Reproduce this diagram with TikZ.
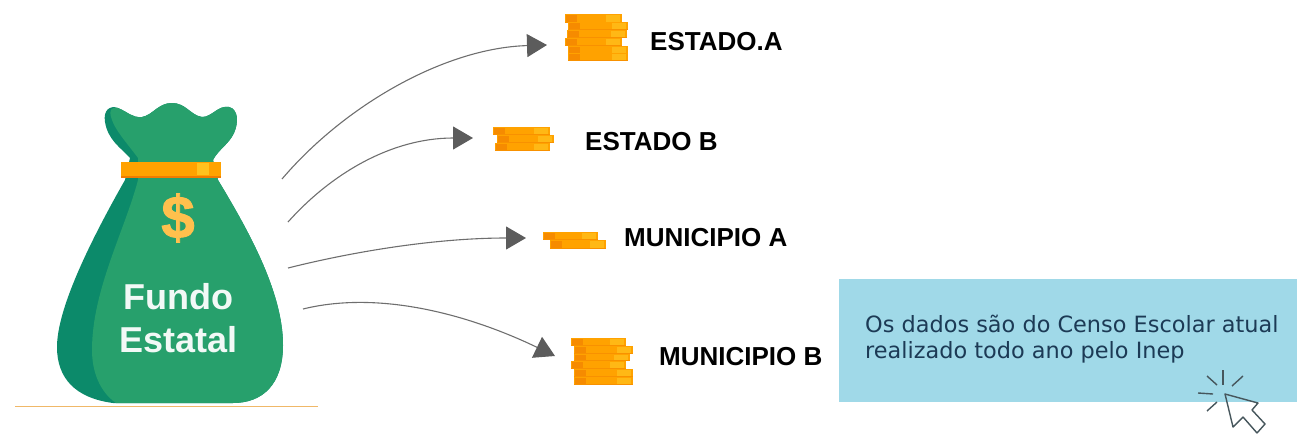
\documentclass[tikz,border=0pt]{standalone}
\usepackage{fontspec}
\setmainfont{Liberation Sans}
\newfontfamily\notefont{DejaVu Sans}
\newfontfamily\heavyfont[FakeBold=1.6]{Liberation Sans Bold}
\usetikzlibrary{arrows.meta}
\definecolor{bagfront}{HTML}{27A06C}
\definecolor{bagback}{HTML}{0C8A6A}
\definecolor{bandor}{HTML}{FFA200}
\definecolor{bandlow}{HTML}{F07C00}
\definecolor{bandhi}{HTML}{FFC21E}
\definecolor{dollar}{HTML}{FFC04D}
\definecolor{linkgray}{HTML}{6E6E6E}
\definecolor{headgray}{HTML}{5C5C5C}
\definecolor{notebg}{HTML}{A0D9E8}
\definecolor{notetext}{HTML}{1C3A55}
\definecolor{cursorgray}{HTML}{46565C}
\definecolor{groundline}{HTML}{F0B868}
\newcommand{\coinbar}[4]{%
  \fill[bandor] (#1,#2) rectangle (#3,#4);
  \fill[bandlow!45!bandor] (#1,#4-1.2) rectangle (#3,#4);
  \fill[bandhi!70!bandor] (#3-16,#2+1) rectangle (#3-2,#4-1.5);
  \fill[bandlow!60!bandor] (#1+1,#2+1) rectangle (#1+12,#4-1.5);
}
\tikzset{
  link/.style={draw=linkgray,line width=1.1pt,-{Triangle[length=20pt,width=23pt,fill=headgray,color=headgray]}},
  statelabel/.style={anchor=west,inner sep=0pt,font=\fontsize{26}{30}\selectfont\bfseries,text=black},
  bagtext/.style={inner sep=0pt,font=\fontsize{36}{40}\selectfont\bfseries,text=white!94!bagfront},
  notestyle/.style={anchor=west,inner sep=0pt,align=left,font=\notefont\fontsize{22.4}{26}\selectfont,text=notetext},
  ray/.style={draw=cursorgray,line width=1.4pt},
}
\begin{document}
\begin{tikzpicture}[x=1pt,y=-1pt]
\useasboundingbox (0,0) rectangle (1297,434);
% ground
\draw[draw=groundline,line width=1.2pt] (15,406.5) -- (318,406.5);
% bag back
\fill[bagback] (130,158) .. controls (120,147) and (108,140) .. (105,122)
  .. controls (103,110) and (110,105) .. (118,108)
  .. controls (128,112) and (132,118) .. (142,117)
  .. controls (153,115) and (158,103) .. (172,103)
  .. controls (186,103) and (190,115) .. (202,117)
  .. controls (212,117) and (218,105) .. (229,107)
  .. controls (238,109) and (239,122) .. (234,133)
  .. controls (229,144) and (218,150) .. (213,160)
  -- (218,180)
  .. controls (245,225) and (283,290) .. (283,345)
  .. controls (283,385) and (262,403) .. (233,403)
  -- (113,403)
  .. controls (75,398) and (57,378) .. (57,347)
  .. controls (57,310) and (88,245) .. (125,180) -- cycle;
% bag front
\fill[bagfront] (138,158) .. controls (130,147) and (115,130) .. (112,120)
  .. controls (108,110) and (112,106) .. (118,108)
  .. controls (128,112) and (132,118) .. (142,117)
  .. controls (153,115) and (158,103) .. (172,103)
  .. controls (186,103) and (190,115) .. (202,117)
  .. controls (212,117) and (218,105) .. (229,107)
  .. controls (238,109) and (239,122) .. (234,133)
  .. controls (229,144) and (218,150) .. (213,160)
  -- (218,180)
  .. controls (245,225) and (283,290) .. (283,345)
  .. controls (283,385) and (262,403) .. (233,403)
  -- (116,403)
  .. controls (100,392) and (92,372) .. (92,350)
  .. controls (92,290) and (125,230) .. (138,180) -- cycle;
% band
\fill[bandor] (121,162) rectangle (221,178);
\fill[bandlow] (121,175.5) rectangle (221,178);
\fill[bandhi] (197,163) rectangle (209,175);
% bag texts
\node[inner sep=0pt,text=dollar,font=\heavyfont\fontsize{60}{60}\selectfont] (dollarsign) at (178,218) {\$};
\node[bagtext] (fundo) at (178.5,297) {Fundo};
\node[bagtext] (estatal) at (178.5,340) {Estatal};
% coins estado A
\coinbar{565}{14}{622}{23}
\coinbar{568}{22}{628}{30}
\coinbar{567}{30}{627}{38}
\coinbar{565}{38}{622}{46}
\coinbar{568}{46}{628}{54}
\coinbar{568}{53}{628}{61}
% coins estado B
\coinbar{493}{127}{550}{135}
\coinbar{497}{135}{554}{143}
\coinbar{495}{143}{550}{151}
% coins municipio A
\coinbar{543}{232}{598}{240}
\coinbar{550}{240}{606}{249}
% coins municipio B
\coinbar{571}{338}{626}{346}
\coinbar{574}{346}{633}{354}
\coinbar{574}{354}{630}{361}
\coinbar{571}{361}{626}{369}
\coinbar{574}{369}{633}{377}
\coinbar{574}{377}{633}{385}
% labels
\node[statelabel] (ea) at (650,42) {ESTADO.A};
\node[statelabel] (eb) at (585,142) {ESTADO B};
\node[statelabel] (ma) at (624,238) {MUNICIPIO A};
\node[statelabel] (mb) at (659,357) {MUNICIPIO B};
% connectors
\coordinate (s1) at (282,179); \coordinate (t1) at (547,45);
\coordinate (s2) at (288,222); \coordinate (t2) at (473,138);
\coordinate (s3) at (288,268); \coordinate (t3) at (526,238);
\coordinate (s4) at (303,309); \coordinate (t4) at (555,356);
\draw[link] (s1) .. controls (345,105) and (445,48) .. (t1);
\draw[link] (s2) .. controls (330,175) and (390,138) .. (t2);
\draw[link] (s3) .. controls (360,250) and (440,238) .. (t3);
\draw[link] (s4) .. controls (380,290) and (470,315) .. (t4);
% note
\fill[notebg] (839,279) rectangle (1297,402);
\node[notestyle] (note) at (865,339.5) {Os dados são do Censo Escolar atual\\realizado todo ano pelo Inep};
% cursor
\draw[ray] (1223,370) -- (1223,385);
\draw[ray] (1243,376) -- (1232,386);
\draw[ray] (1198,393) -- (1213,394);
\draw[ray] (1207,376) -- (1217,385);
\draw[ray] (1207,411) -- (1217,402);
\draw[draw=cursorgray,line width=1.4pt,line join=round] (1225,394) -- (1233,427) -- (1243,417) -- (1257,433) -- (1265,424) -- (1252,410) -- (1258,403) -- cycle;
\end{tikzpicture}
\end{document}
